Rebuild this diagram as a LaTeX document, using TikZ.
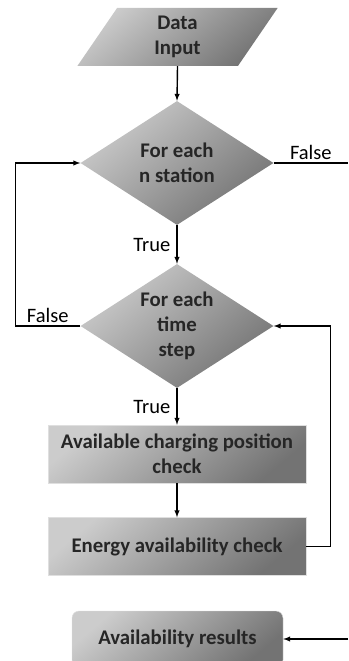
\documentclass[tikz,border=0pt]{standalone}
\usepackage{fontspec}
\setmainfont{Carlito}
\usetikzlibrary{shapes.geometric}

\newcommand{\boxfont}{\fontsize{20.8}{25}\selectfont\bfseries}

\tikzset{
	greyfill/.style={top color=black!20, bottom color=black!55, shading angle=40},
	decision/.style={diamond, greyfill, align=center, font=\boxfont, text=black!85, aspect=1.55, inner sep=-6pt, minimum width=193pt, minimum height=124pt},
	process/.style={rectangle, greyfill, draw=gray!25, align=center, font=\boxfont, text=black!85, minimum width=258pt, minimum height=58pt},
	arrow/.style={-latex, line width=1.4pt},
	link/.style={line width=1.4pt}
}

\begin{document}
\begin{tikzpicture}[x=1pt, y=-1pt, font=\fontsize{20.5}{24}\selectfont]
		\useasboundingbox (0,0) rectangle (348,661);

		\node[trapezium, trapezium left angle=70, trapezium right angle=110, trapezium stretches=true, greyfill, align=center, font=\boxfont, text=black!85, minimum width=201pt, minimum height=58pt, inner sep=0pt] (input) at (177.5,37) {Data\\Input};

		\node[decision] (station) at (177,163) {For each\\n station};

		\node[decision] (time) at (177,326) {For each\\time\\step};

		\node[process] (charging) at (177,454) {Available charging position\\check};

		\node[process] (energy) at (177,546.5) {Energy availability check};

		\node[process, rounded corners=2.5mm, minimum width=211pt, minimum height=56pt] (results) at (177.5,639) {Availability results};

		\coordinate (exit) at (348,163);
		\coordinate (entry) at (348,639);

		\draw[arrow] (input.south) -- (station.north);
		\draw[link] (station.east) -- node[above, inner sep=3pt]{False} (exit);
		\draw[arrow] (station.south) -- node[left, inner sep=6pt]{True} (time.north);
		\draw[arrow] (time.west) -- node[above, inner sep=3pt]{False} ++(-65,0) |- (station.west);
		\draw[arrow] (time.south) -- node[left, inner sep=6pt]{True} (charging.north);
		\draw[arrow] (charging.south) -- (energy.north);
		\draw[arrow] (energy.east) -- ++(24,0) |- (time.east);
		\draw[arrow] (entry) -- (results.east);

	\end{tikzpicture}
\end{document}
